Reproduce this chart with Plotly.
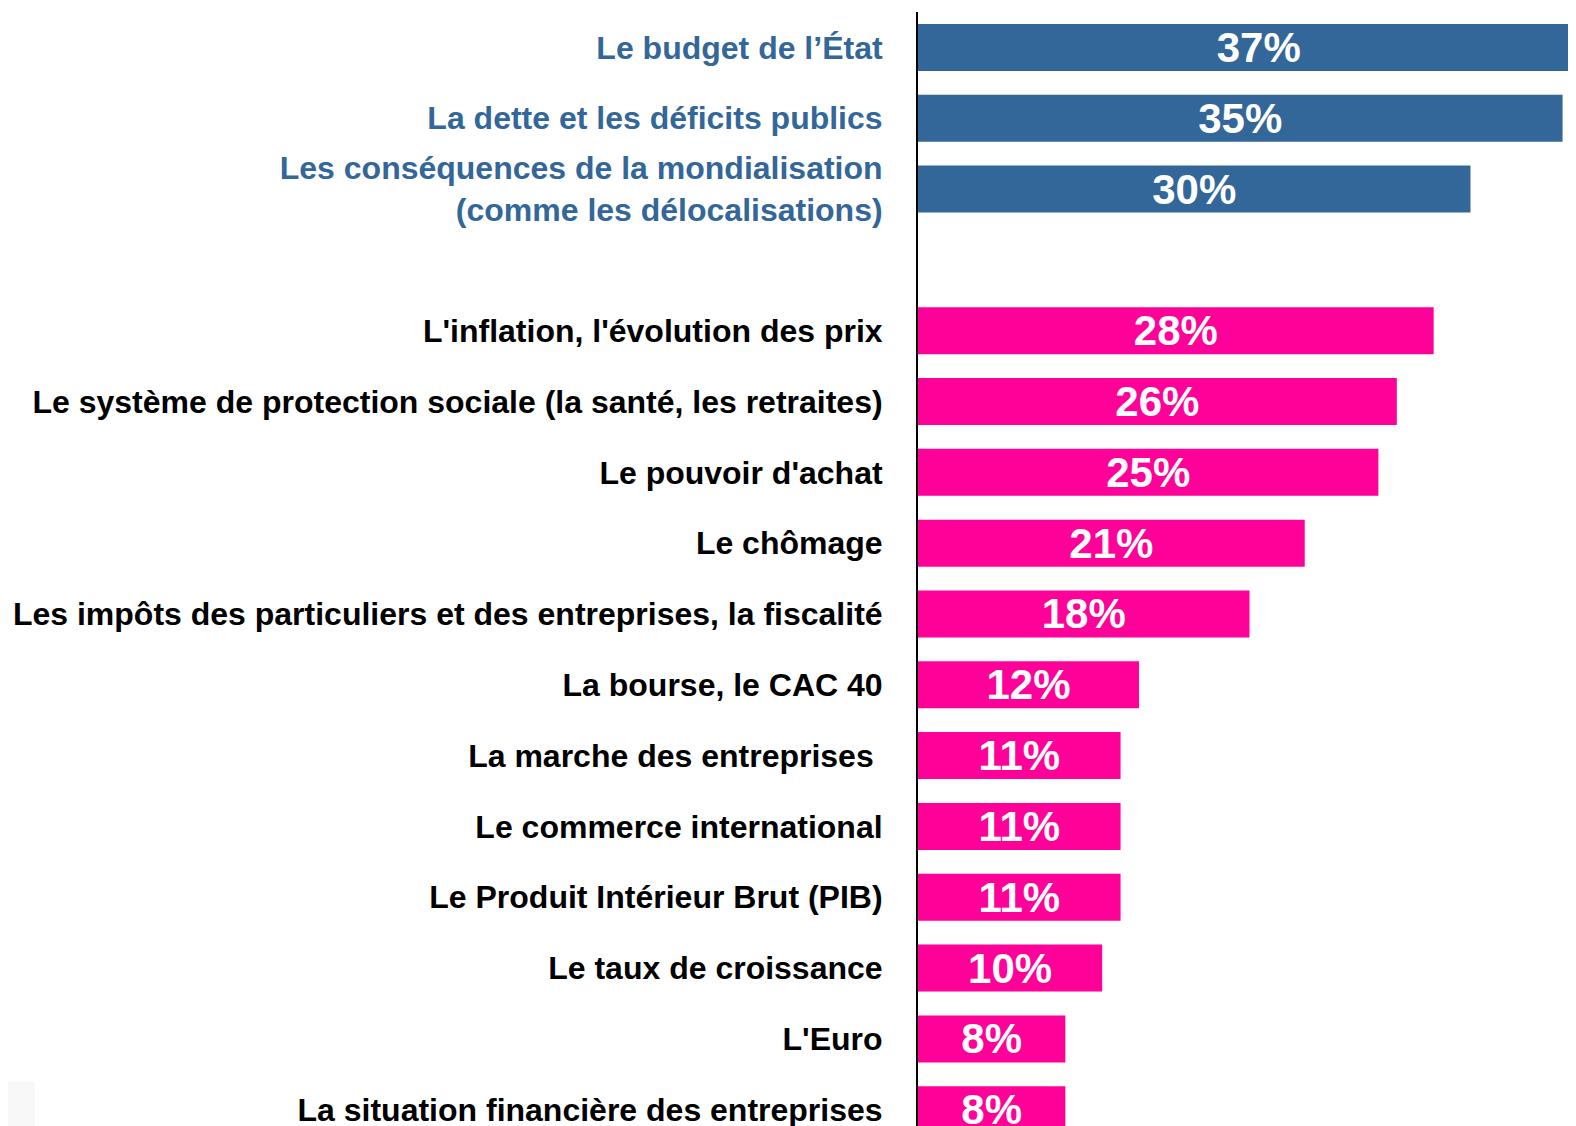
import plotly.graph_objects as go

categories = [
    "Le budget de l’État",
    "La dette et les déficits publics",
    "Les conséquences de la mondialisation<br>(comme les délocalisations)",
    "L'inflation, l'évolution des prix",
    "Le système de protection sociale (la santé, les retraites)",
    "Le pouvoir d'achat",
    "Le chômage",
    "Les impôts des particuliers et des entreprises, la fiscalité",
    "La bourse, le CAC 40",
    "La marche des entreprises\u00a0",
    "Le commerce international",
    "Le Produit Intérieur Brut (PIB)",
    "Le taux de croissance",
    "L'Euro",
    "La situation financière des entreprises",
]
values = [37, 35, 30, 28, 26, 25, 21, 18, 12, 11, 11, 11, 10, 8, 8]
groups = ["top", "top", "top"] + ["other"] * 12
positions = [0, 1, 2, 4, 5, 6, 7, 8, 9, 10, 11, 12, 13, 14, 15]

BLUE = "#336699"
PINK = "#FF0099"
FONT = "Liberation Sans, Arial, Helvetica, sans-serif"

colors = [BLUE if g == "top" else PINK for g in groups]


def styled(label, g):
    if g != "top":
        return label
    return "<br>".join(f'<span style="color:{BLUE}">{part}</span>' for part in label.split("<br>"))


ticktext = [styled(c, g) for c, g in zip(categories, groups)]

fig = go.Figure(
    go.Bar(
        x=values,
        y=positions,
        orientation="h",
        width=0.664,
        marker=dict(color=colors, line=dict(width=0)),
        text=[f"{v}%" for v in values],
        textposition="inside",
        insidetextanchor="middle",
        textangle=0,
        constraintext="none",
        textfont=dict(family=FONT, size=42, color="white", weight="bold"),
        hoverinfo="skip",
    )
)

# the page body adds an 8px margin, so the figure is sized/margined to compensate
fig.update_layout(
    width=1568,
    height=1118,
    margin=dict(l=910, r=0, t=4, b=0, pad=0, autoexpand=False),
    paper_bgcolor="white",
    plot_bgcolor="white",
    showlegend=False,
    font=dict(family=FONT),
    shapes=[
        dict(type="rect", xref="paper", yref="paper", x0=-1.383, x1=-1.342, y0=0, y1=0.04,
             fillcolor="#f8f8f8", line=dict(width=0), layer="below"),
    ],
)

fig.update_xaxes(
    range=[0, 35.73],
    showgrid=False,
    zeroline=False,
    showticklabels=False,
    showline=False,
    automargin=False,
    fixedrange=True,
)

fig.update_yaxes(
    range=[15.23, -0.5],
    tickvals=positions,
    ticktext=ticktext,
    tickfont=dict(family=FONT, size=32, color="black", weight="bold"),
    ticks="",
    ticklabelstandoff=27,
    ticklabeloverflow="allow",
    showgrid=False,
    zeroline=False,
    showline=True,
    linecolor="black",
    linewidth=2,
    automargin=False,
    fixedrange=True,
)

fig.write_html("out.html")
